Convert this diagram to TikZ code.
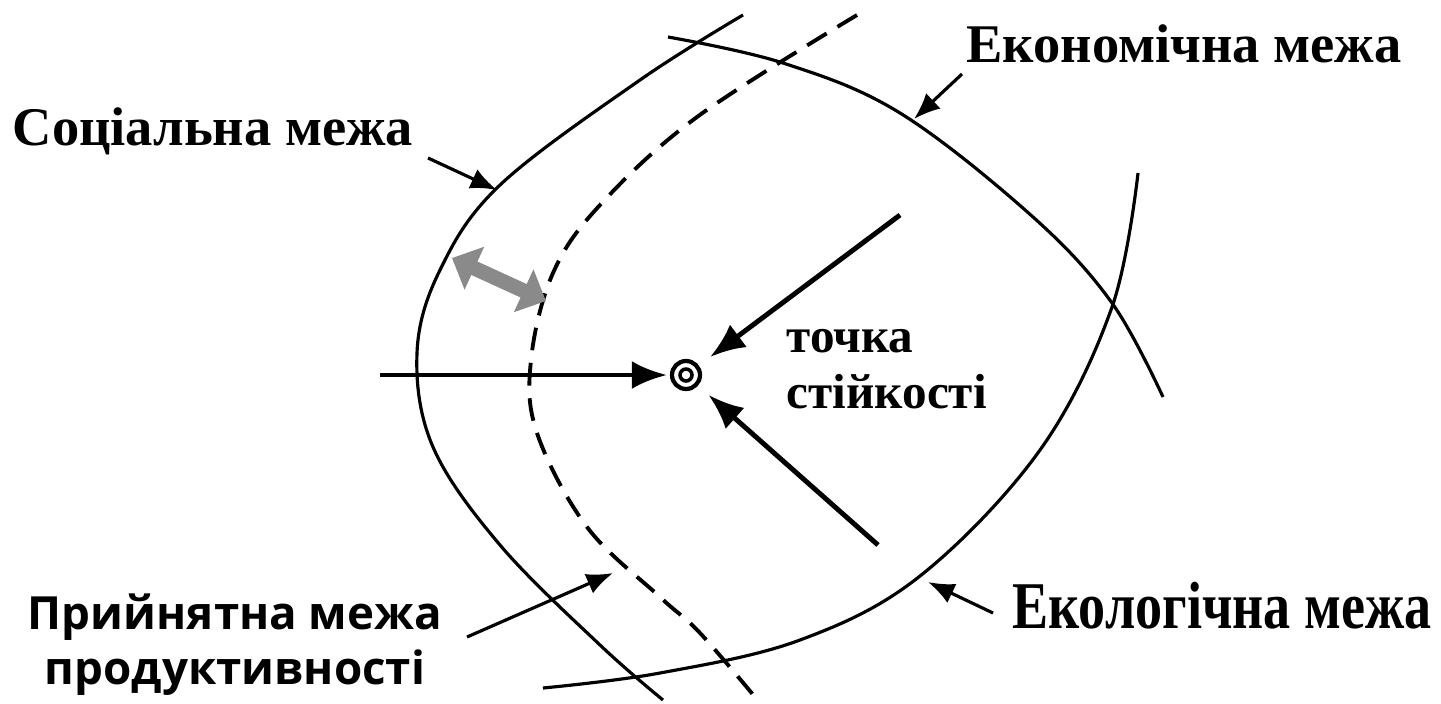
\documentclass[tikz,border=0pt]{standalone}
\usepackage{fontspec}
\setmainfont{Liberation Serif}
\newfontfamily\lblfont{Liberation Serif}
\newfontfamily\prodfont{Open Sans}
\usetikzlibrary{arrows.meta}
\definecolor{mgray}{HTML}{8A8A8A}
\tikzset{
  >={Latex[length=10pt,width=8pt]},
  mbound/.style={black, line width=0.9pt},
  mdash/.style={black, line width=1.1pt, dash pattern=on 6.5pt off 3.6pt},
  mpull/.style={->, line width=1.4pt},
  mptr/.style={-{Latex[length=7.5pt,width=6pt]}, line width=0.9pt},
  mgap/.style={{Triangle[length=7pt,width=13pt]}-{Triangle[length=7pt,width=13pt]},
               draw=mgray, line width=4.2pt},
  mlbl/.style={font=\lblfont\bfseries\fontsize{15.5}{18}\selectfont, inner sep=0pt},
  mtxt/.style={font=\lblfont\bfseries\fontsize{14}{15.8}\selectfont, align=left, inner sep=0pt},
  mprod/.style={font=\prodfont\bfseries\fontsize{13}{15.6}\selectfont,
                align=center, inner sep=0pt},
  mpoint/.style={circle, draw=black, line width=1.2pt, minimum size=0.28cm, inner sep=0pt},
}

\begin{document}
\begin{tikzpicture}[x=1cm,y=1cm]
  \useasboundingbox (0,0) rectangle (14.41,7.03);

  % --- межі ---
  \draw[mbound] plot[smooth, tension=0.6] coordinates {
    (7.43,6.88) (6.40,6.23) (5.00,5.18) (4.40,4.33) (4.17,3.50)
    (4.33,2.56) (5.00,1.58) (6.00,0.58) (6.63,0.03)};
  \draw[mdash] plot[smooth, tension=0.6] coordinates {
    (8.57,6.88) (6.97,5.86) (6.00,4.98) (5.53,4.30) (5.31,3.43)
    (5.37,2.70) (5.87,1.76) (6.60,1.06) (7.00,0.70) (7.60,0.00)};
  \draw[mbound] plot[smooth, tension=0.6] coordinates {
    (6.68,6.66) (7.83,6.40) (9.00,5.90) (10.33,4.86) (11.12,4.00) (11.63,3.06)};
  \draw[mbound] plot[smooth, tension=0.6] coordinates {
    (5.43,0.15) (6.60,0.30) (8.00,0.63) (9.20,1.27)
    (10.40,2.53) (11.12,3.96) (11.38,5.30)};

  % --- точка стійкості ---
  \node[mpoint] (tp) at (6.86,3.28) {};
  \draw[line width=1pt] (tp.center) circle (0.06);
  \node[mtxt, anchor=west] (tochka) at (7.86,3.34) {точка\\стійкості};

  \coordinate (pw) at (3.80,3.28);
  \coordinate (pne) at (9.00,4.88);
  \coordinate (pse) at (8.78,1.58);
  \draw[mpull, shorten >=0.03cm] (pw) -- (tp);
  \draw[mpull, shorten >=0.14cm] (pne) -- (tp);
  \draw[mpull, shorten >=0.14cm] (pse) -- (tp);

  % --- зазор між межами ---
  \coordinate (g1) at (4.52,4.45);
  \coordinate (g2) at (5.46,4.02);
  \draw[mgap] (g1) -- (g2);

  % --- підписи ---
  \node[mlbl, anchor=base] (econ) at (11.84,6.41) {Економічна межа};
  \node[mlbl, anchor=base] (soc) at (2.13,5.58) {Соціальна межа};
  \node[mlbl, anchor=base, font=\lblfont\bfseries\fontsize{19}{22}\selectfont] (ecol)
    at (12.22,0.75) {\scalebox{0.81}[1]{Екологічна межа}};
  \node[mprod] (prod) at (2.35,0.585) {Прийнятна межа\\продуктивності};

  \coordinate (econ-s) at (9.62,6.29);
  \coordinate (econ-t) at (9.14,5.84);
  \coordinate (soc-s) at (4.28,5.45);
  \coordinate (soc-t) at (4.97,5.13);
  \coordinate (ecol-s) at (9.93,0.90);
  \coordinate (ecol-t) at (9.28,1.21);
  \coordinate (prod-s) at (4.67,0.66);
  \coordinate (prod-t) at (6.13,1.30);
  \draw[mptr] (econ-s) -- (econ-t);
  \draw[mptr] (soc-s) -- (soc-t);
  \draw[mptr] (ecol-s) -- (ecol-t);
  \draw[mptr] (prod-s) -- (prod-t);

\end{tikzpicture}
\end{document}
